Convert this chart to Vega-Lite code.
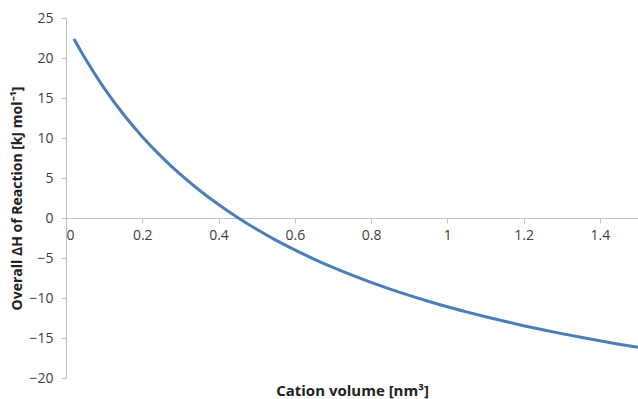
{
  "$schema": "https://vega.github.io/schema/vega-lite/v6.json",
  "autosize": "none",
  "width": 572,
  "height": 360,
  "padding": {"left": 66, "top": 18, "right": 0, "bottom": 21},
  "background": "white",
  "config": {"view": {"stroke": null}, "font": "Open Sans"},
  "data": {"values": [
    {"v": 0.021, "h": 22.39},
    {"v": 0.05, "h": 19.96},
    {"v": 0.1, "h": 16.23},
    {"v": 0.15, "h": 13.0},
    {"v": 0.2, "h": 10.17},
    {"v": 0.25, "h": 7.68},
    {"v": 0.3, "h": 5.45},
    {"v": 0.35, "h": 3.47},
    {"v": 0.4, "h": 1.68},
    {"v": 0.45, "h": 0.06},
    {"v": 0.5, "h": -1.41},
    {"v": 0.55, "h": -2.76},
    {"v": 0.6, "h": -3.99},
    {"v": 0.65, "h": -5.13},
    {"v": 0.7, "h": -6.18},
    {"v": 0.75, "h": -7.15},
    {"v": 0.8, "h": -8.05},
    {"v": 0.85, "h": -8.89},
    {"v": 0.9, "h": -9.67},
    {"v": 0.95, "h": -10.4},
    {"v": 1.0, "h": -11.09},
    {"v": 1.05, "h": -11.73},
    {"v": 1.1, "h": -12.34},
    {"v": 1.15, "h": -12.91},
    {"v": 1.2, "h": -13.46},
    {"v": 1.25, "h": -13.97},
    {"v": 1.3, "h": -14.45},
    {"v": 1.35, "h": -14.91},
    {"v": 1.4, "h": -15.35},
    {"v": 1.45, "h": -15.77},
    {"v": 1.5, "h": -16.16}
  ]},
  "mark": {"type": "line", "color": "#4a7ebb", "strokeWidth": 3, "interpolate": "monotone", "clip": true},
  "encoding": {
    "x": {
      "field": "v", "type": "quantitative",
      "scale": {"domain": [0, 1.5], "nice": false, "zero": false},
      "axis": {
        "values": [0, 0.2, 0.4, 0.6, 0.8, 1, 1.2, 1.4],
        "labelExpr": "datum.value",
        "offset": -160,
        "grid": false,
        "domainColor": "#bfbfbf",
        "tickColor": "#bfbfbf",
        "tickSize": 5,
        "labelFontSize": 14,
        "labelColor": "#404040",
        "labelPadding": 5,
        "title": "Cation volume [nm³]",
        "titleFontSize": 15,
        "titleFontWeight": "bold",
        "titleColor": "#222222",
        "titleY": 165
      }
    },
    "y": {
      "field": "h", "type": "quantitative",
      "scale": {"domain": [-20, 25], "nice": false, "zero": false},
      "axis": {
        "values": [-20, -15, -10, -5, 0, 5, 10, 15, 20, 25],
        "grid": false,
        "domainColor": "#bfbfbf",
        "tickColor": "#bfbfbf",
        "tickSize": 5,
        "labelFontSize": 14,
        "labelColor": "#404040",
        "labelPadding": 8,
        "title": "Overall ΔH of Reaction [kJ mol⁻¹]",
        "titleFontSize": 14,
        "titleFontWeight": "bold",
        "titleColor": "#222222",
        "titleX": -42
      }
    }
  }
}
